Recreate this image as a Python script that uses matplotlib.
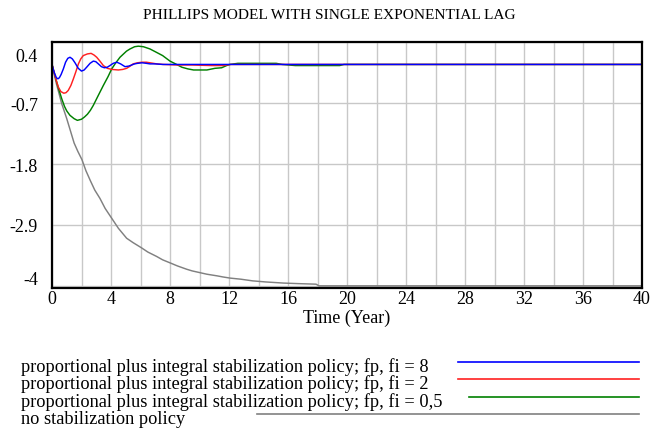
import matplotlib
matplotlib.use('Agg')
import matplotlib.pyplot as plt
import matplotlib.transforms as mtransforms
from matplotlib.lines import Line2D

plt.rcParams['font.family'] = ['Liberation Serif', 'DejaVu Serif']

W, H = 655, 435

# values
t_fi8 = [0, 0.1, 0.2, 0.3, 0.4, 0.5, 0.62, 0.77, 0.92, 1.07, 1.22, 1.38, 1.56, 1.78,
         2.0, 2.18, 2.35, 2.58, 2.8, 2.97, 3.14, 3.35, 3.55, 3.75, 3.93, 4.15, 4.4,
         4.65, 4.95, 5.2, 5.4, 5.6, 5.8, 6.1, 6.4, 6.64, 7.0, 7.5, 8.5, 40]
v_fi8 = [0, -0.1, -0.18, -0.24, -0.26, -0.24, -0.18, -0.08, 0.04, 0.11, 0.13, 0.1,
         0.03, -0.07, -0.12, -0.1, -0.05, 0.02, 0.06, 0.05, 0.01, -0.04, -0.06, -0.05,
         -0.02, 0.02, 0.04, 0.01, -0.04, -0.03, -0.01, 0.01, 0.02, 0.03, 0.02, 0.01,
         0.01, 0.0, 0.0, 0.0]

t_fi2 = [0, 0.1, 0.2, 0.3, 0.43, 0.6, 0.8, 0.95, 1.1, 1.28, 1.45, 1.62, 1.79, 1.95,
         2.12, 2.4, 2.65, 2.85, 3.03, 3.25, 3.48, 3.75, 4.05, 4.5, 4.8, 5.06, 5.3,
         5.5, 5.8, 6.1, 6.4, 6.64, 7.1, 7.55, 8.5, 9.5, 10.8, 11.6, 12.1, 40]
v_fi2 = [0, -0.1, -0.2, -0.3, -0.41, -0.49, -0.52, -0.51, -0.47, -0.38, -0.26, -0.13,
         0.01, 0.1, 0.16, 0.19, 0.2, 0.17, 0.13, 0.06, -0.02, -0.07, -0.09, -0.1,
         -0.09, -0.07, -0.03, 0.01, 0.03, 0.04, 0.04, 0.03, 0.01, 0.0, -0.01, -0.01,
         -0.02, -0.02, 0.0, 0.0]

t_fi05 = [0, 0.1, 0.2, 0.32, 0.45, 0.66, 0.85, 1.0, 1.22, 1.5, 1.72, 2.0, 2.2, 2.4,
          2.6, 2.8, 3.1, 3.48, 3.8, 4.05, 4.3, 4.61, 4.85, 5.05, 5.29, 5.6, 5.85, 6.2,
          6.64, 7.0, 7.5, 8.0, 8.45, 8.8, 9.2, 9.6, 10.0, 10.5, 11.05, 11.5, 11.84,
          12.07, 12.6, 15.2, 15.6, 16.5, 19.5, 19.8, 40]
v_fi05 = [0, -0.1, -0.2, -0.32, -0.44, -0.62, -0.76, -0.84, -0.92, -0.98, -1.01,
          -0.99, -0.95, -0.9, -0.83, -0.74, -0.58, -0.38, -0.22, -0.08, 0.02, 0.13,
          0.19, 0.24, 0.28, 0.32, 0.33, 0.32, 0.28, 0.23, 0.16, 0.06, 0.0, -0.05,
          -0.08, -0.1, -0.1, -0.1, -0.07, -0.06, -0.02, 0.0, 0.02, 0.02, 0.0, -0.02,
          -0.02, 0.0, 0.0]

t_none = [0, 0.15, 0.3, 0.5, 0.66, 0.8, 1.0, 1.25, 1.5, 1.75, 2.03, 2.3, 2.6, 2.9,
          3.25, 3.6, 4.05, 4.5, 5.06, 5.5, 6.05, 6.5, 7.1, 7.5, 8.05, 8.5, 9.13, 9.5,
          10.0, 10.5, 11.2, 11.6, 12.07, 12.8, 13.6, 14.5, 15.7, 16.7, 17.9, 18.1, 40]
v_none = [0, -0.18, -0.35, -0.55, -0.71, -0.82, -0.98, -1.2, -1.42, -1.57, -1.72,
          -1.92, -2.1, -2.27, -2.42, -2.6, -2.78, -2.96, -3.14, -3.22, -3.31, -3.39,
          -3.47, -3.53, -3.59, -3.64, -3.7, -3.73, -3.76, -3.79, -3.82, -3.84, -3.86,
          -3.88, -3.91, -3.93, -3.95, -3.96, -3.97, -4.0, -4.0]

y_ticks = [0.4, -0.7, -1.8, -2.9, -4]
y_labels = ['0.4', '-0.7', '-1.8', '-2.9', '-4']
x_ticks = list(range(0, 41, 4))

series = [
    ('proportional plus integral stabilization policy; fp, fi = 8', t_fi8, v_fi8, '#0000ff'),
    ('proportional plus integral stabilization policy; fp, fi = 2', t_fi2, v_fi2, '#ff2020'),
    ('proportional plus integral stabilization policy; fp, fi = 0,5', t_fi05, v_fi05, '#008000'),
    ('no stabilization policy', t_none, v_none, '#808080'),
]


def fx(px):
    return px / W


def fy(py):
    return 1 - py / H


fig = plt.figure(figsize=(W / 100, H / 100), dpi=100)
ax = fig.add_axes([fx(52), fy(288.5), fx(642) - fx(52), fy(43.3) - fy(288.5)])

# draw back to front so blue ends up on top
for name, t, v, c in reversed(series):
    ax.plot(t, v, color=c, lw=1.05)

ax.set_xlim(0, 40)
ax.set_ylim(-4.03, 0.4)
ax.set_xticks(x_ticks)
ax.set_xticks(range(0, 41, 2), minor=True)
ax.set_yticks(y_ticks)
ax.set_yticklabels(y_labels)
ax.grid(True, which='both', axis='x', color='#c8c8c8', lw=1.0)
ax.grid(True, which='major', axis='y', color='#c8c8c8', lw=1.0)
ax.set_axisbelow(True)
ax.tick_params(which='both', length=0, labelsize=13)
ax.tick_params(axis='y', pad=10)
ax.tick_params(axis='x', pad=2)
for s in ax.spines.values():
    s.set_linewidth(1.6)
    s.set_color('black')

# shift the end labels inside the axis range, as in the original
ticks = ax.yaxis.get_major_ticks()
off_top = mtransforms.ScaledTranslation(0, -12.5 / 100, fig.dpi_scale_trans)
off_bot = mtransforms.ScaledTranslation(0, 8.5 / 100, fig.dpi_scale_trans)
ticks[0].label1.set_transform(ticks[0].label1.get_transform() + off_top)
ticks[-1].label1.set_transform(ticks[-1].label1.get_transform() + off_bot)

ax.set_xlabel('Time (Year)', fontsize=13, labelpad=1)
fig.text(fx(329), fy(19), 'PHILLIPS MODEL WITH SINGLE EXPONENTIAL LAG',
         ha='center', va='baseline', fontsize=11.1)

# legend: text on the left, line sample on the right
text_base = [371.7, 389.2, 406.7, 424.2]
line_y = [362.7, 380.3, 397.7, 415.0]
line_x0 = [458, 458, 469, 257]
for i, (name, t, v, c) in enumerate(series):
    fig.text(fx(21), fy(text_base[i]), name, ha='left', va='baseline', fontsize=13.2)
    fig.add_artist(Line2D([fx(line_x0[i]), fx(639)], [fy(line_y[i])] * 2,
                          transform=fig.transFigure, color=c, lw=1.2))

fig.savefig('out.png', dpi=100)
